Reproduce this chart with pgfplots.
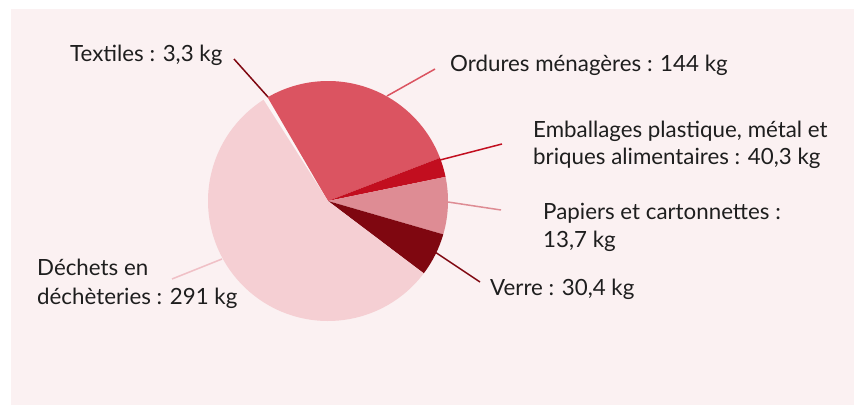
\documentclass[border=0pt]{standalone}
\usepackage{fontspec}
\setmainfont{Lato}
\usepackage{pgfplots}
\usepackage{pgfplotstable}
\pgfplotsset{compat=1.18}

\definecolor{bg}{HTML}{FBF1F2}
\definecolor{cord}{HTML}{DB5461}
\definecolor{cemb}{HTML}{C20E1F}
\definecolor{cpap}{HTML}{DE8C94}
\definecolor{cver}{HTML}{7F0710}
\definecolor{cdec}{HTML}{F5CFD3}
\definecolor{cdecl}{HTML}{F0C0C6}
\definecolor{ctex}{HTML}{FCF6F6}
\definecolor{txt}{HTML}{1E1E1E}

\tikzset{lbl/.style={anchor=base west,text=txt,inner sep=0pt,
    font=\fontsize{22.4}{26}\selectfont}}

% slices in drawing order (clockwise from the top left)
\pgfplotstableread{
val col
3.3 ctex
144 cord
13.7 cemb
40.3 cpap
30.4 cver
291 cdec
}\piedata

\begin{document}
\begin{tikzpicture}
\begin{axis}[width=854bp,height=405bp,scale only axis,
    xmin=0,xmax=854,ymin=0,ymax=405,y dir=reverse,
    hide axis,clip=false]
\fill[white] (axis cs:0,0) rectangle (axis cs:854,405);
\fill[bg] (axis cs:11,9) rectangle (axis cs:854,405);
\pgfplotsextra{
  \gdef\tot{0}
  \pgfplotsforeachungrouped \i in {0,...,5}{
    \pgfplotstablegetelem{\i}{val}\of\piedata
    \pgfmathsetmacro\t{\tot+\pgfplotsretval}
    \global\let\tot\t
  }
  \gdef\cur{122.5}
  \pgfplotsforeachungrouped \i in {0,...,5}{
    \pgfplotstablegetelem{\i}{val}\of\piedata \let\v=\pgfplotsretval
    \pgfplotstablegetelem{\i}{col}\of\piedata \let\c=\pgfplotsretval
    \pgfmathsetmacro\nxt{\cur-\v/\tot*360}
    \fill[fill=\c] (axis cs:328,201) -- ++(\cur:120bp)
      arc[start angle=\cur,end angle=\nxt,radius=120bp] -- cycle;
    \global\let\cur\nxt
  }
}
% leader lines
\draw[cver,line width=1.5bp] (axis cs:234,59) -- (axis cs:268,97);
\draw[cord,line width=1.5bp] (axis cs:387,96) -- (axis cs:435,69);
\draw[cemb,line width=1.5bp] (axis cs:440,160) -- (axis cs:502,144);
\draw[cpap,line width=1.5bp] (axis cs:448,202) -- (axis cs:501,210);
\draw[cver,line width=1.5bp] (axis cs:435,252) -- (axis cs:480,282);
\draw[cdecl,line width=1.5bp] (axis cs:172,279) -- (axis cs:222,259);
% labels
\node[lbl] at (axis cs:70,61) {Textiles : 3,3 kg};
\node[lbl] at (axis cs:450,71) {Ordures ménagères : 144 kg};
\node[lbl] at (axis cs:533,137) {Emballages plastique, métal et};
\node[lbl] at (axis cs:533,164) {briques alimentaires : 40,3 kg};
\node[lbl] at (axis cs:543,219) {Papiers et cartonnettes :};
\node[lbl] at (axis cs:543,247) {13,7 kg};
\node[lbl] at (axis cs:490,295) {Verre : 30,4 kg};
\node[lbl] at (axis cs:37,275) {Déchets en};
\node[lbl] at (axis cs:37,304) {déchèteries : 291 kg};
\end{axis}
\end{tikzpicture}
\end{document}
